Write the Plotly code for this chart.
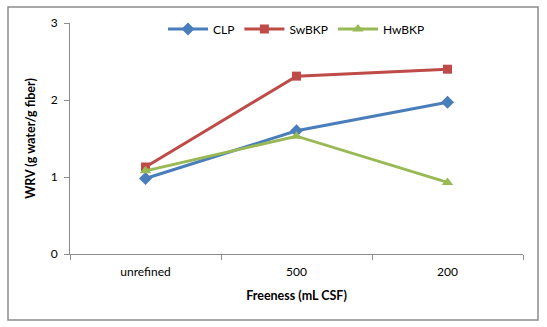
import plotly.graph_objects as go

categories = ["unrefined", "500", "200"]
clp = [0.98, 1.60, 1.97]
swbkp = [1.13, 2.31, 2.40]
hwbkp = [1.08, 1.53, 0.93]
y_ticks = [0, 1, 2, 3]

W, H = 547, 327
L, R, T, B = 70, 24, 23, 73
pw, ph = W - L - R, H - T - B

fig = go.Figure()
series = [
    ("CLP", clp, "#4A7EBB", "diamond", 10),
    ("SwBKP", swbkp, "#BE4B48", "square", 9),
    ("HwBKP", hwbkp, "#98B954", "triangle-up", 10),
]
for name, vals, col, sym, sz in series:
    fig.add_trace(go.Scatter(x=categories, y=vals, name=name, mode="lines+markers",
                             line=dict(color=col, width=3),
                             marker=dict(symbol=sym, size=sz, color=col)))

def px(x):
    return (x - L) / pw
def py(y):
    return (H - B - y) / ph

fig.add_shape(type="rect", xref="paper", yref="paper",
              x0=px(8), x1=px(538), y0=py(320), y1=py(7),
              line=dict(color="#8C8C8C", width=1.5), layer="below")

fig.update_layout(
    width=W, height=H, autosize=False,
    margin=dict(l=L, r=R, t=T, b=B),
    paper_bgcolor="white", plot_bgcolor="white",
    font=dict(family="Lato, Open Sans, sans-serif", size=12, color="#000000"),
    showlegend=True,
    legend=dict(orientation="h", x=0.5, xanchor="center", y=py(29), yanchor="middle",
                font=dict(size=12), itemwidth=40, bgcolor="rgba(0,0,0,0)"),
    xaxis=dict(type="category", tickson="boundaries", ticks="outside", ticklen=5,
               tickcolor="#8C8C8C", showline=True, linecolor="#8C8C8C", linewidth=1,
               showgrid=False, range=[-0.5, 2.5], ticklabelstandoff=7,
               title=dict(text="<b>Freeness (mL CSF)</b>", font=dict(size=12.5), standoff=12),
               tickfont=dict(size=12)),
    yaxis=dict(range=[0, 3], tickvals=y_ticks, ticks="outside", ticklen=5,
               tickcolor="#8C8C8C", showline=True, linecolor="#8C8C8C", linewidth=1,
               showgrid=False, zeroline=False, ticklabelstandoff=4,
               title=dict(text="<b>WRV (g water/g fiber)</b>", font=dict(size=12.5), standoff=12),
               tickfont=dict(size=12)),
)
fig.write_html("out.html")
